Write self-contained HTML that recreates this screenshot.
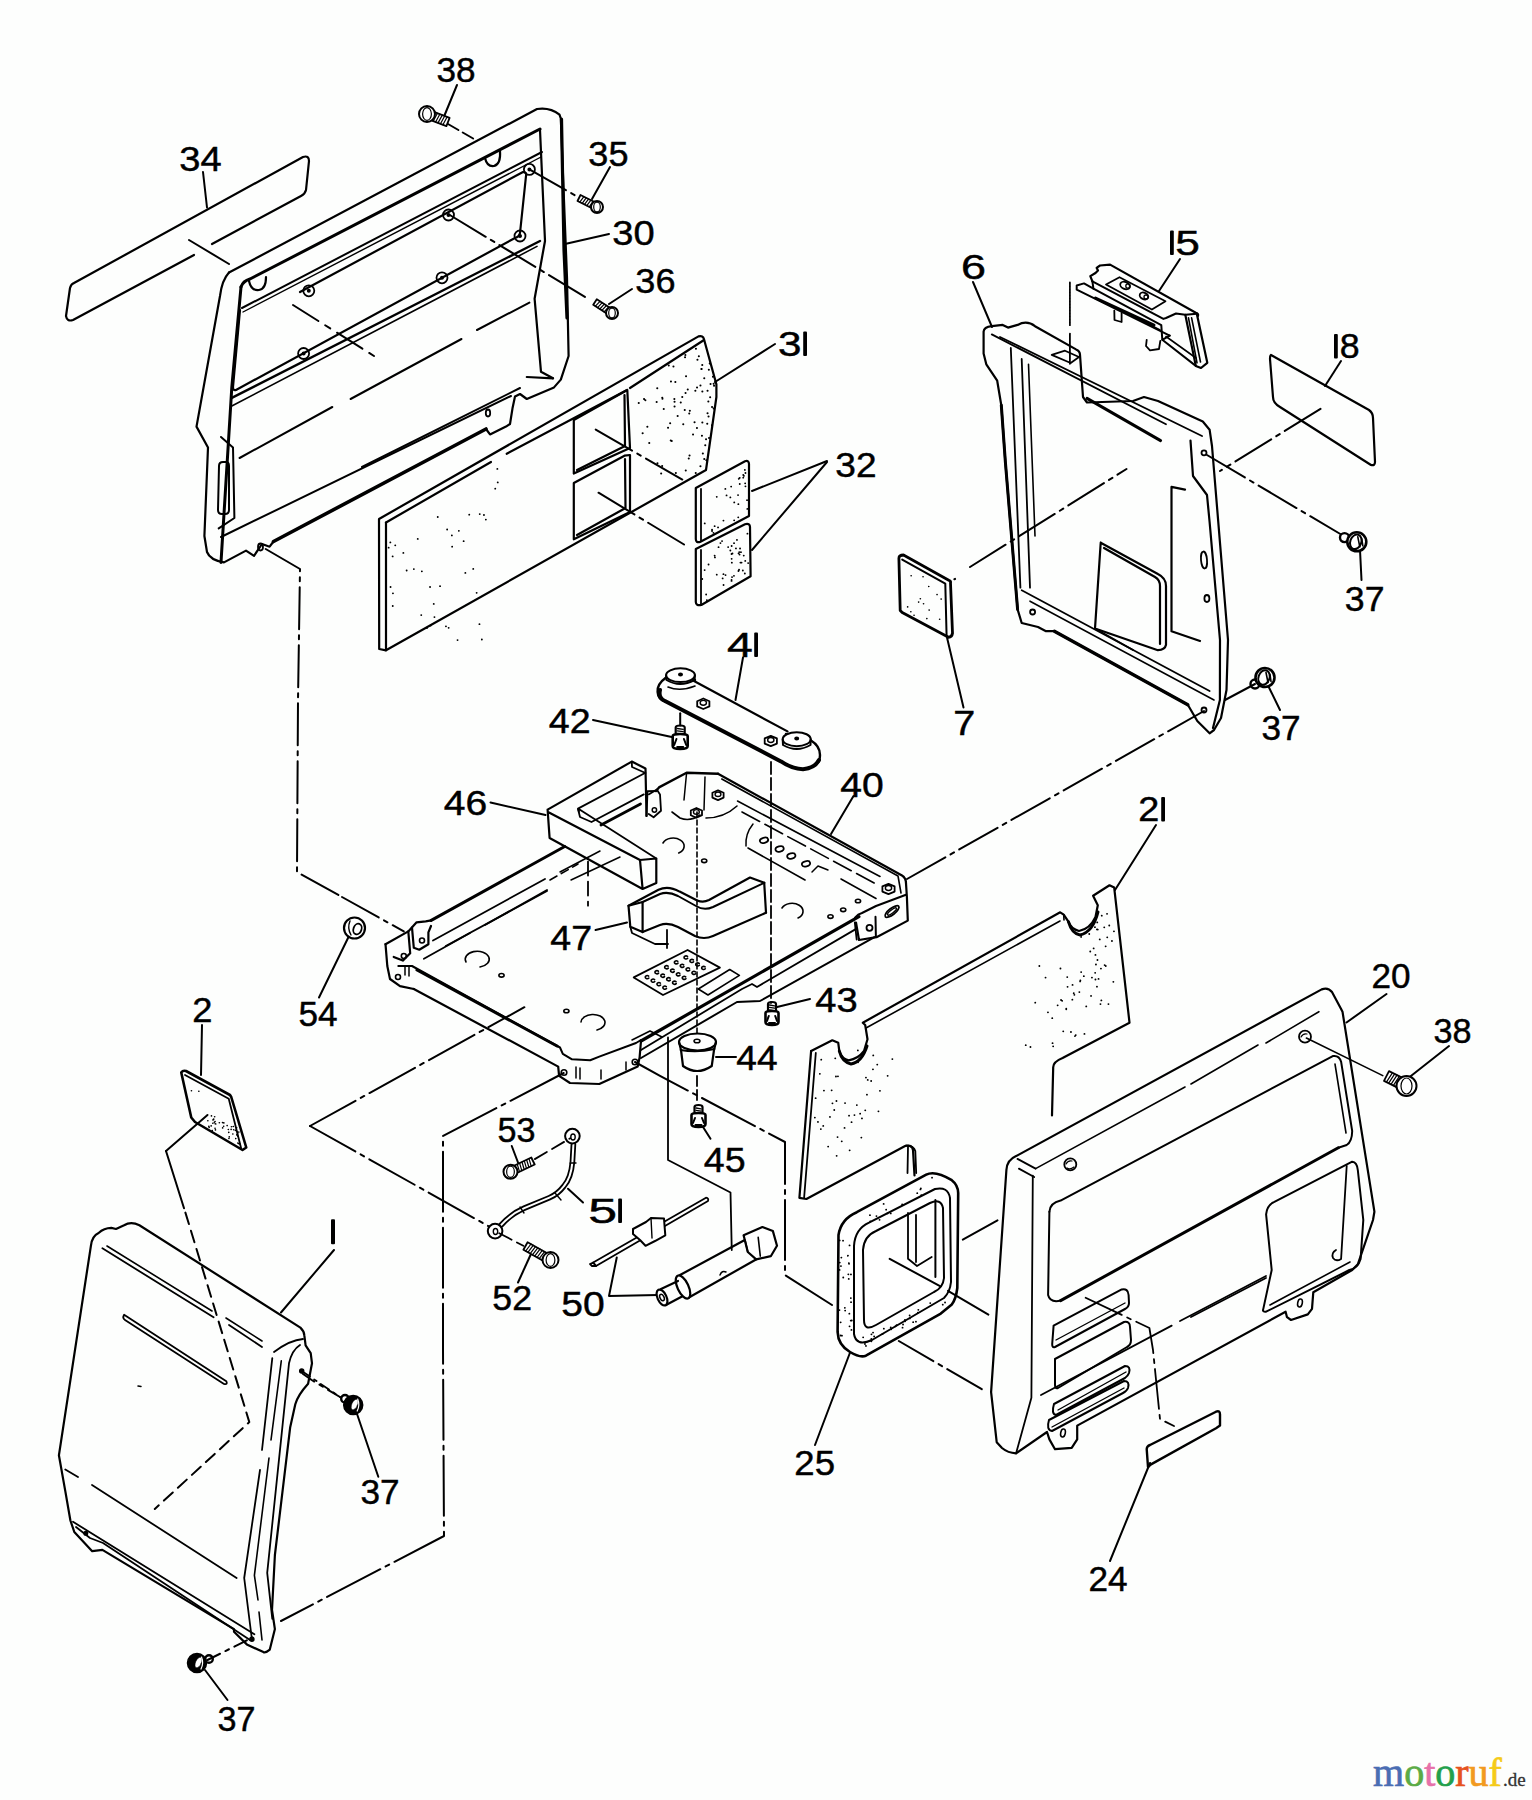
<!DOCTYPE html>
<html><head><meta charset="utf-8"><title>parts diagram</title>
<style>
html,body{margin:0;padding:0;background:#fdfefd;overflow:hidden;}
svg{display:block;}
text{font-family:"Liberation Sans",sans-serif;fill:#000;stroke:#000;stroke-width:0.45px;}
.wm{font-family:"Liberation Serif",serif;stroke:none;}
</style></head><body>
<svg width="1532" height="1800" viewBox="0 0 1532 1800">
<g stroke="#000" stroke-linecap="round" stroke-linejoin="round" fill="none">
<path d="M457,85 L443,119" stroke-width="2.0" fill="none" />
<path d="M203,172 L207,207.5" stroke-width="2.0" fill="none" />
<path d="M610,167 L592,199" stroke-width="2.0" fill="none" />
<path d="M609,234 L565,244" stroke-width="2.0" fill="none" />
<path d="M632,289 L609,304" stroke-width="2.0" fill="none" />
<path d="M775,344 L715,382" stroke-width="2.0" fill="none" />
<path d="M973,282 L992,327" stroke-width="2.0" fill="none" />
<path d="M1180,259 L1159,291" stroke-width="2.0" fill="none" />
<path d="M1341,361 L1325,386" stroke-width="2.0" fill="none" />
<path d="M827,461 L752,491" stroke-width="2.0" fill="none" />
<path d="M827,462 L752,550" stroke-width="2.0" fill="none" />
<path d="M1361.5,580 L1360,550" stroke-width="2.0" fill="none" />
<path d="M963.5,707.5 L947,637.5" stroke-width="2.0" fill="none" />
<path d="M743,657.5 L735.5,700" stroke-width="2.0" fill="none" />
<path d="M593,720 L674,737.5" stroke-width="2.0" fill="none" />
<path d="M1280,710 L1269,687.5" stroke-width="2.0" fill="none" />
<path d="M490.5,802.5 L545.5,815" stroke-width="2.0" fill="none" />
<path d="M853.5,796 L831,834" stroke-width="2.0" fill="none" />
<path d="M1156,825 L1115,890" stroke-width="2.0" fill="none" />
<path d="M595.5,930 L627,922.5" stroke-width="2.0" fill="none" />
<path d="M202,1025 L201,1075" stroke-width="2.0" fill="none" />
<path d="M319,997.5 L349,936" stroke-width="2.0" fill="none" />
<path d="M810,999 L775,1007.5" stroke-width="2.0" fill="none" />
<path d="M1386.5,994 L1346.5,1022.5" stroke-width="2.0" fill="none" />
<path d="M1449,1046 L1409,1077.5" stroke-width="2.0" fill="none" />
<path d="M716,1057 L736,1057" stroke-width="2.0" fill="none" />
<path d="M511.75,1146 L518,1162.5" stroke-width="2.0" fill="none" />
<path d="M710.5,1138.75 L701.75,1125" stroke-width="2.0" fill="none" />
<path d="M583,1202.5 L568,1188.75" stroke-width="2.0" fill="none" />
<path d="M334,1250 L281,1312.5" stroke-width="2.0" fill="none" />
<path d="M518,1282.5 L530.5,1255" stroke-width="2.0" fill="none" />
<path d="M616.75,1257.5 L609,1296 L658,1295" stroke-width="2.0" fill="none" />
<path d="M815,1445 L851,1350" stroke-width="2.0" fill="none" />
<path d="M378.3,1476.7 L357.2,1414.5" stroke-width="2.0" fill="none" />
<path d="M1110,1561 L1150,1463" stroke-width="2.0" fill="none" />
<path d="M205,1670 L227.5,1700" stroke-width="2.0" fill="none" />
<path d="M74,283 L303,157 Q309,155 309,161 L306,190 Q305,194 301,196 L212,244 M194,255 L73,320 Q67,322 66,316 L70,288 Q71,284 74,283" stroke-width="2.2" fill="none" />
<path d="M189,240 L229,264" stroke-width="2.0" fill="none" />
<path d="M293,305 L374,356" stroke-width="2.0" fill="none" stroke-dasharray="30 8 6 8"/>
<path d="M229,272.5 L537,109 Q550,107 559.5,114.6 L560.8,118.5 L567,277.8 L568.6,356 L560.8,379.6 L554,387.4 L526.8,399 L520,394 L515,396.6 L512.5,408.3 L510,424 L506,426.6 L490,434.4 L486,429" stroke-width="2.2" fill="none" />
<path d="M273.5,541.5 L269.6,546.7 L262,544 L254,555.8 L246,550.6 L224,562.4 Q210,560 207,552 L204.4,536 L208,447.5 L196.5,426.6 L220,296 Q222,280 229,272.5" stroke-width="2.2" fill="none" />
<path d="M486,429 L273.5,541.5" stroke-width="3.6" fill="none" />
<path d="M241,287 Q243,281 250,279 L540,129" stroke-width="3.0" fill="none" />
<path d="M241,287 L231.8,387.4 L221,562.4" stroke-width="3.0" fill="none" />
<path d="M540,130 L545,241 L534.6,298.7 L541,371.8 L553,378.3" stroke-width="2.2" fill="none" />
<path d="M561.5,119 L564,250 L567,318" stroke-width="3.2" fill="none" />
<path d="M526.8,377 L553,378.3" stroke-width="2.2" fill="none" />
<path d="M242,308 L542,152" stroke-width="2.0" fill="none" />
<path d="M243,312 L541,157" stroke-width="1.4" fill="none" />
<path d="M300,292 L523,172 Q527,172 526,176 L520,233 Q519,237 515,238 L236,390 Q233,391 233,387 L240,310" stroke-width="2.2" fill="none" />
<circle cx="308.8" cy="290.8" r="5.5" stroke-width="1.8" fill="none"/>
<circle cx="308.8" cy="290.8" r="1.3" stroke-width="1.4" fill="#000"/>
<circle cx="448.5" cy="215" r="5.5" stroke-width="1.8" fill="none"/>
<circle cx="448.5" cy="215" r="1.3" stroke-width="1.4" fill="#000"/>
<circle cx="303.6" cy="353.5" r="5.5" stroke-width="1.8" fill="none"/>
<circle cx="303.6" cy="353.5" r="1.3" stroke-width="1.4" fill="#000"/>
<circle cx="442" cy="277.8" r="5.5" stroke-width="1.8" fill="none"/>
<circle cx="442" cy="277.8" r="1.3" stroke-width="1.4" fill="#000"/>
<circle cx="520" cy="236" r="5.5" stroke-width="1.8" fill="none"/>
<circle cx="520" cy="236" r="1.3" stroke-width="1.4" fill="#000"/>
<circle cx="529.4" cy="169.4" r="5.5" stroke-width="1.8" fill="none"/>
<circle cx="529.4" cy="169.4" r="1.3" stroke-width="1.4" fill="#000"/>
<path d="M231.8,397.9 L540,241" stroke-width="2.4" fill="none" />
<path d="M231.8,406 L537,246.4" stroke-width="1.6" fill="none" />
<path d="M239.6,458 L332.3,407" stroke-width="2.0" fill="none" />
<path d="M350.6,399 L461.5,339" stroke-width="2.0" fill="none" />
<path d="M477,330 L529.4,302.6" stroke-width="2.0" fill="none" />
<path d="M362,467 L520,388" stroke-width="2.0" fill="none" />
<path d="M221,537 L511,396" stroke-width="2.0" fill="none" />
<path d="M219,466 Q219,462 223,462 L226,462 Q229,462 229,466 L229,510 Q229,514 225,514 L222,514 Q218,514 218,510 Z" stroke-width="2.0" fill="none" />
<path d="M221,437 L233,447.5 L234.4,518 L218.7,528.4" stroke-width="2.0" fill="none" />
<ellipse cx="260.5" cy="547" rx="2.5" ry="3.5" transform="rotate(0 260.5 547)" stroke-width="1.8" fill="none"/>
<ellipse cx="488" cy="413" rx="2.2" ry="3.5" transform="rotate(0 488 413)" stroke-width="1.8" fill="none"/>
<path d="M529.4,169.4 L578,197" stroke-width="2.0" fill="none" stroke-dasharray="42 6 4 6"/>
<path d="M449.8,215 L590,300" stroke-width="2.0" fill="none" stroke-dasharray="42 6 4 6"/>
<path d="M448,124 L474,139" stroke-width="2.0" fill="none" stroke-dasharray="12 5"/>
<path d="M265.7,549 L300,569 L298,700 L297,872 L342,897" stroke-width="2.0" fill="none" stroke-dasharray="42 6 4 6"/>
<path d="M379,519 L698.5,336.4 Q703,335 704,339.2 L716.4,384.4 L716.4,397 L706,470 L386,650.3 L379.2,649 Z" stroke-width="2.2" fill="none" />
<path d="M386,522.5 L491,462 M506.7,453.8 L627,390 M630,388 L704,340" stroke-width="2.2" fill="none" />
<path d="M386,522.5 L386,650.3" stroke-width="2.2" fill="none" />
<path d="M573.8,420 L627.3,390 L630,448 L573.8,473.5 Z" stroke-width="2.2" fill="none" />
<path d="M624.5,395 L625,446 M577,470 L625,446" stroke-width="2.2" fill="none" />
<path d="M573.8,483 L624.5,455.7 L630,455 L630,512 L573.8,539.3 Z" stroke-width="2.2" fill="none" />
<path d="M625,459 L625.5,508 M577,535 L625.5,508" stroke-width="2.2" fill="none" />
<path d="M447.1,529.5h0.1M392.6,556.4h0.1M390.3,542.4h0.1M434.4,617.1h0.1M457.5,640.1h0.1M451.8,535.4h0.1M497.3,468.9h0.1M483.9,515.0h0.1M421.2,615.1h0.1M406.6,570.5h0.1M458.8,530.8h0.1M463.6,541.2h0.1M421.8,571.3h0.1M437.7,517.0h0.1M476.6,592.8h0.1M413.8,569.1h0.1M445.9,626.3h0.1M469.2,514.7h0.1M497.7,482.4h0.1M433.7,603.9h0.1M403.3,552.9h0.1M390.5,587.0h0.1M473.2,568.9h0.1M485.8,519.6h0.1M465.3,572.9h0.1M452.1,546.7h0.1M481.8,639.5h0.1M440.0,586.2h0.1M392.9,593.3h0.1M479.7,514.1h0.1M430.0,587.0h0.1M388.6,547.7h0.1M392.7,606.0h0.1M430.6,625.6h0.1M395.2,545.3h0.1M448.6,627.8h0.1M479.4,624.2h0.1M417.7,538.9h0.1M426.9,628.0h0.1M495.2,488.7h0.1" stroke-width="1.8" stroke-linecap="round"/>
<path d="M671.7,441.0h0.1M663.7,409.0h0.1M644.0,399.1h0.1M638.7,403.1h0.1M705.2,445.2h0.1M670.1,423.3h0.1M701.3,369.1h0.1M642.6,433.3h0.1M704.2,459.0h0.1M675.8,472.9h0.1M700.4,466.3h0.1M674.5,401.7h0.1M702.3,422.6h0.1M698.8,356.2h0.1M694.5,422.3h0.1M713.6,408.5h0.1M708.3,401.4h0.1M697.4,359.8h0.1M708.5,416.5h0.1M702.2,365.0h0.1M701.6,369.1h0.1M674.3,399.0h0.1M657.4,463.3h0.1M677.6,416.0h0.1M697.0,387.4h0.1M700.4,385.4h0.1M709.0,437.9h0.1M689.2,413.5h0.1M675.3,382.1h0.1M695.3,390.7h0.1M645.3,400.3h0.1M693.0,434.6h0.1M684.7,410.0h0.1M687.7,389.4h0.1M656.6,401.9h0.1M647.3,426.8h0.1M688.7,458.5h0.1M701.9,435.8h0.1M685.3,355.0h0.1M689.5,455.5h0.1M706.3,460.2h0.1M707.2,423.7h0.1M707.5,390.7h0.1M680.7,402.6h0.1M710.5,383.9h0.1M709.7,363.4h0.1M714.0,385.7h0.1M668.7,365.5h0.1M662.4,398.8h0.1M704.2,378.3h0.1M670.7,440.6h0.1M713.6,383.7h0.1M685.7,470.5h0.1M685.5,393.0h0.1M649.2,443.0h0.1M670.9,381.4h0.1M711.9,425.3h0.1M710.1,397.3h0.1M662.2,397.7h0.1M712.9,376.8h0.1M695.9,348.8h0.1M657.2,388.3h0.1M712.0,406.9h0.1M682.2,397.1h0.1M661.1,473.4h0.1M702.8,453.6h0.1M702.3,391.4h0.1M662.1,466.0h0.1M706.0,439.2h0.1M686.0,376.2h0.1M685.0,357.3h0.1M689.8,410.8h0.1M707.5,413.2h0.1M673.4,366.5h0.1M674.5,406.4h0.1M683.2,424.2h0.1M695.7,473.0h0.1M668.0,427.7h0.1M696.9,427.9h0.1M708.8,369.7h0.1" stroke-width="2.0" stroke-linecap="round"/>
<path d="M595.7,429.6 L686,481.7" stroke-width="2.0" fill="none" stroke-dasharray="42 6 4 6"/>
<path d="M598.5,492.7 L689,547.5" stroke-width="2.0" fill="none" stroke-dasharray="42 6 4 6"/>
<path d="M695.8,488 L745,461.2 Q749,460 749,464 L749,516 L700,542 Q695.8,543 695.8,539 Z" stroke-width="2.2" fill="none" />
<path d="M701,489 L701,541" stroke-width="1.8" fill="none" />
<path d="M695.8,549 L745,524.2 Q750,523 750,527 L750.6,576.3 L701.3,605 Q695.8,606 695.8,602 Z" stroke-width="2.2" fill="none" />
<path d="M701,550 L701,604" stroke-width="1.8" fill="none" />
<path d="M744.8,469.9h0.1M714.6,526.2h0.1M725.3,488.9h0.1M743.2,477.7h0.1M739.7,484.0h0.1M747.3,508.9h0.1M730.3,497.4h0.1M743.2,474.9h0.1M745.1,483.3h0.1M738.0,495.1h0.1M713.4,532.8h0.1M726.5,495.4h0.1M704.7,523.4h0.1M739.4,478.1h0.1M723.4,520.6h0.1M738.3,504.2h0.1M712.0,531.0h0.1M747.0,500.2h0.1M743.9,475.8h0.1M734.1,520.3h0.1M745.4,473.0h0.1M731.1,486.6h0.1M716.7,496.8h0.1M712.0,529.7h0.1M739.7,477.8h0.1M738.7,478.8h0.1M718.0,527.4h0.1M745.4,486.3h0.1M734.2,502.4h0.1M738.2,517.3h0.1" stroke-width="1.8" stroke-linecap="round"/>
<path d="M731.5,554.0h0.1M706.1,594.5h0.1M732.4,553.5h0.1M736.9,539.9h0.1M738.4,571.0h0.1M706.8,600.1h0.1M725.5,575.1h0.1M733.9,575.8h0.1M716.7,574.7h0.1M731.6,546.0h0.1M723.4,574.2h0.1M714.9,557.4h0.1M718.5,547.2h0.1M720.4,543.1h0.1M731.8,562.7h0.1M740.4,562.6h0.1M714.6,555.6h0.1M722.0,541.1h0.1M735.9,548.4h0.1M732.0,577.1h0.1M738.5,553.3h0.1M728.1,547.1h0.1M708.5,564.5h0.1M741.5,562.6h0.1M739.2,552.1h0.1M744.8,573.5h0.1M731.5,579.9h0.1M734.0,543.2h0.1M723.5,585.0h0.1M739.0,569.7h0.1M704.6,570.1h0.1M745.2,560.9h0.1M748.1,563.1h0.1M702.2,579.0h0.1M747.4,533.7h0.1M731.5,580.9h0.1M722.6,578.4h0.1M739.5,554.6h0.1M731.6,558.8h0.1M738.9,570.1h0.1M740.9,552.2h0.1M730.3,550.5h0.1M743.7,555.6h0.1M740.0,548.5h0.1M742.8,570.5h0.1" stroke-width="1.8" stroke-linecap="round"/>
<path d="M983.6,331.7 Q984,327 991.8,326.2 L1002.7,324.9 L1008,327.6 L1017.6,324.9 Q1027,320 1035,326.2 L1076,349.4 Q1080,351 1080,354.8 L1083,397 L1087,402.5 L1133,401 L1144,397 L1158,401 L1202.8,421.5 L1209.6,429.7 L1212,446 L1228,640 L1226.5,690 L1221,718 L1214,730 L1209.6,733.3 L1197.3,721 L1187.8,704.7 L1054.4,631.2 L1046,631.2 L1038,627 L1021.7,623 L1017.6,609.4 L1005.4,462.4 L1001.3,405.2 L997.2,380.7 L986.3,364.3 L983.6,353.5 Z" stroke-width="2.2" fill="none" />
<path d="M1054.4,631.2 L1187.8,704.7" stroke-width="3.4" fill="none" />
<path d="M1017.6,609.4 L1005.4,462.4 L1001.3,405.2" stroke-width="3.0" fill="none" />
<path d="M991.8,334.4 L1166,424.2" stroke-width="1.8" fill="none" />
<path d="M1000,337 L1202,436" stroke-width="1.8" fill="none" />
<path d="M1087,398.4 L1160.6,440.6" stroke-width="3.0" fill="none" />
<path d="M1010.8,348 L1020.4,587.6" stroke-width="1.8" fill="none" />
<path d="M1021.7,359 L1030,587.6" stroke-width="1.8" fill="none" />
<path d="M1028.5,364.3 L1035,536" stroke-width="1.6" fill="none" />
<path d="M1021.7,590.3 L1209.6,691" stroke-width="1.8" fill="none" />
<path d="M1030,601.2 L1214,700" stroke-width="1.6" fill="none" />
<path d="M1190.5,440.6 L1193,476 L1207,495 L1209.6,522 L1220,640 L1219.9,700 L1213,728" stroke-width="2.2" fill="none" />
<path d="M1100.7,542.7 L1157.9,574 Q1166,578 1166,586 L1166,644.8 Q1165,650 1157.9,650.2 L1095,628.5 L1100.7,542.7" stroke-width="2.2" fill="none" />
<path d="M1104,548 L1155,577 Q1160,580 1160,586 L1160,644" stroke-width="2.2" fill="none" />
<path d="M1095,628.5 L1133,650" stroke-width="1.8" fill="none" />
<path d="M1185,489.6 L1171.5,486.9 L1171.5,631.2 L1200,641" stroke-width="2.2" fill="none" />
<ellipse cx="1204" cy="560" rx="3" ry="8.5" transform="rotate(-5 1204 560)" stroke-width="1.8" fill="none"/>
<ellipse cx="1206.9" cy="598.5" rx="2.5" ry="3.5" transform="rotate(0 1206.9 598.5)" stroke-width="1.8" fill="none"/>
<circle cx="1032.6" cy="612" r="2.5" stroke-width="1.8" fill="none"/>
<circle cx="1204" cy="452.8" r="2.5" stroke-width="1.8" fill="none"/>
<circle cx="1204" cy="710" r="2.5" stroke-width="1.8" fill="none"/>
<path d="M970,567 L1126.5,469" stroke-width="2.0" fill="none" stroke-dasharray="42 6 4 6"/>
<path d="M1069.9,282.4 L1069.9,325.2" stroke-width="1.8" fill="none" stroke-dasharray="2 1"/>
<path d="M1069.9,333.6 L1069.9,363.8" stroke-width="1.8" fill="none" />
<path d="M1051.7,354.8 L1065,350.7 L1079,357 L1070.7,363 Z" stroke-width="1.8" fill="none" />
<path d="M1092.4,281.3 L1090.3,276.1 L1095.5,273 L1098,270.5 L1096.6,267.8 L1100,265.5 L1110.1,264.6 L1195.8,312.7 Q1199,314 1197.9,316" stroke-width="2.2" fill="none" />
<path d="M1092.4,281.3 L1163.4,318.9 L1166,318 L1176,313.5 L1185.3,314.8 L1196.8,313.7" stroke-width="2.0" fill="none" />
<path d="M1092.4,281.3 L1093.4,288.6 L1161.3,325.2 L1162.3,339.8 L1169.7,335.6" stroke-width="2.0" fill="none" />
<path d="M1106,284.5 L1119.5,277.2 L1165.5,301.2 L1151.9,309.5 Z" stroke-width="1.8" fill="none" />
<ellipse cx="1125" cy="285.5" rx="5" ry="3.5" transform="rotate(25 1125 285.5)" stroke-width="1.8" fill="none"/>
<ellipse cx="1144" cy="296" rx="4.5" ry="3.2" transform="rotate(25 1144 296)" stroke-width="1.8" fill="none"/>
<circle cx="1128" cy="286" r="2.2" stroke-width="1.3" fill="none"/>
<circle cx="1146" cy="297" r="2" stroke-width="1.3" fill="none"/>
<path d="M1185.3,314.8 L1195.8,365.9 L1201,368 L1207.3,362.8 L1196.8,313.7" stroke-width="2.2" fill="none" />
<path d="M1188.5,317.9 L1197,362.8" stroke-width="1.6" fill="none" />
<path d="M1191.6,317.9 L1200.5,362" stroke-width="1.6" fill="none" />
<path d="M1162.3,339.8 L1195.8,365.9" stroke-width="2.0" fill="none" />
<path d="M1166,336.5 L1196,358" stroke-width="1.6" fill="none" />
<path d="M1076.7,285.5 L1084,283.4 L1093.4,288.6 M1076.7,285.5 L1076.7,289.7 L1169.7,335.6" stroke-width="2.0" fill="none" />
<path d="M1095.5,298 L1154,325.2" stroke-width="3.0" fill="none" />
<path d="M1146.7,339.8 L1146,346 L1150,350.3 L1159,349 L1160.3,341" stroke-width="1.8" fill="none" />
<path d="M1114.3,310.6 L1114.5,320 L1121.6,322 L1121.6,313" stroke-width="1.8" fill="none" />
<path d="M1133,316 L1160,330" stroke-width="1.6" fill="none" />
<path d="M1271,355 L1369,410 Q1373,413 1373,418 L1375,462 Q1375,466 1371,465 L1280,407 Q1273,403 1273,397 L1270,359 Q1270,355 1271,355" stroke-width="2.2" fill="none" />
<path d="M1320.5,408.8 L1220,471" stroke-width="2.0" fill="none" stroke-dasharray="42 6 4 6"/>
<path d="M1207,455 L1342,535" stroke-width="2.0" fill="none" stroke-dasharray="44 6 4 6"/>
<circle cx="1344.5" cy="537.6" r="4.5" stroke-width="2.4" fill="#fff"/>
<circle cx="1356.8" cy="541.8" r="9.5" stroke-width="2.6" fill="#fff"/>
<ellipse cx="1355.8" cy="541.8" rx="5.5" ry="7.5" transform="rotate(20 1355.8 541.8)" stroke-width="2.0" fill="none"/>
<path d="M1357.8,536.8 L1359.8,546.8 M1361.8,538.8 L1362.8,545.8" stroke-width="1.6" fill="none" />
<circle cx="1255" cy="684" r="4.5" stroke-width="2.4" fill="#fff"/>
<circle cx="1265" cy="677.5" r="9.5" stroke-width="2.6" fill="#fff"/>
<ellipse cx="1264" cy="677.5" rx="5.5" ry="7.5" transform="rotate(20 1264 677.5)" stroke-width="2.0" fill="none"/>
<path d="M1266,672.5 L1268,682.5 M1270,674.5 L1271,681.5" stroke-width="1.6" fill="none" />
<circle cx="345" cy="1398.8" r="3.8000000000000003" stroke-width="2.4" fill="#fff"/>
<circle cx="353.2" cy="1405" r="9.5" stroke-width="1.5" fill="#000"/>
<ellipse cx="354.7" cy="1404.5" rx="2.85" ry="5.7" transform="rotate(25 354.7 1404.5)" stroke-width="0.5" fill="#fff"/>
<path d="M357.7,1399 Q360.2,1405 357.2,1411" stroke-width="1.2" fill="none" stroke="#fff"/>
<circle cx="209" cy="1659" r="3.8000000000000003" stroke-width="2.4" fill="#fff"/>
<circle cx="197" cy="1663" r="9.5" stroke-width="1.5" fill="#000"/>
<ellipse cx="198.5" cy="1662.5" rx="2.85" ry="5.7" transform="rotate(25 198.5 1662.5)" stroke-width="0.5" fill="#fff"/>
<path d="M201.5,1657 Q204,1663 201,1669" stroke-width="1.2" fill="none" stroke="#fff"/>
<path d="M1255,684 L1225,700" stroke-width="2.0" fill="none" none/>
<path d="M340,1397 L311.7,1380 L301,1372.5" stroke-width="2.0" fill="none" stroke-dasharray="14 6 4 6"/>
<path d="M207.5,1660 L252.5,1637.5" stroke-width="2.0" fill="none" stroke-dasharray="14 6 4 6"/>
<path d="M907,879 L1204,711" stroke-width="2.0" fill="none" stroke-dasharray="44 6 4 6"/>
<path d="M449.6,117.9 L428.6,109.9 L425.4,118.1 L446.4,126.1 Z" stroke-width="1.8" fill="#fff" />
<path d="M447.1,117.0 L442.9,124.8 M444.7,116.0 L440.5,123.8 M442.3,115.1 L438.0,122.9 M439.8,114.2 L435.6,122.0 M437.4,113.3 L433.2,121.1 M435.0,112.3 L430.7,120.1 M432.6,111.4 L428.3,119.2 " stroke-width="1.2" fill="none" />
<circle cx="427" cy="114" r="8" stroke-width="2.0" fill="#fff"/>
<ellipse cx="427" cy="114" rx="4.4" ry="6.4" transform="rotate(0 427 114)" stroke-width="1.2" fill="none"/>
<path d="M577.5,201.0 L595.5,210.0 L598.5,204.0 L580.5,195.0 Z" stroke-width="1.8" fill="#fff" />
<path d="M579.8,202.1 L583.9,196.7 M582.2,203.3 L586.2,197.9 M584.5,204.4 L588.5,199.1 M586.8,205.6 L590.9,200.2 M589.2,206.8 L593.2,201.4 M591.5,207.9 L595.5,202.6 " stroke-width="1.2" fill="none" />
<circle cx="597" cy="207" r="6" stroke-width="2.0" fill="#fff"/>
<ellipse cx="597" cy="207" rx="3.3000000000000003" ry="4.800000000000001" transform="rotate(0 597 207)" stroke-width="1.2" fill="none"/>
<path d="M593.2,304.8 L610.2,315.8 L613.8,310.2 L596.8,299.2 Z" stroke-width="1.8" fill="#fff" />
<path d="M595.4,306.2 L600.0,301.3 M597.6,307.6 L602.2,302.7 M599.8,309.0 L604.3,304.1 M601.9,310.4 L606.5,305.5 M604.1,311.8 L608.7,306.9 M606.3,313.2 L610.9,308.4 " stroke-width="1.2" fill="none" />
<circle cx="612" cy="313" r="6" stroke-width="2.0" fill="#fff"/>
<ellipse cx="612" cy="313" rx="3.3000000000000003" ry="4.800000000000001" transform="rotate(0 612 313)" stroke-width="1.2" fill="none"/>
<path d="M675.7,727.5 Q675.7,725.5 680.2,725.5 Q684.7,725.5 684.7,727.5 L684.7,737 L675.7,737 Z" stroke-width="2.2" fill="#fff" />
<path d="M677.2,728.5 L683.2,729.3 M677.2,730.9 L683.2,731.6999999999999 M677.2,733.3 L683.2,734.0999999999999 M677.2,735.6999999999999 L683.2,736.4999999999999 " stroke-width="1.3" fill="none" />
<path d="M672.7,736 Q672.7,734 680.2,734 Q687.7,734 687.7,736 L687.7,746 Q687.7,749 680.2,749 Q672.7,749 672.7,746 Z" stroke-width="2.6" fill="#fff" />
<path d="M674.2,745 L676.45,739 M686.2,745 L683.95,739 M677.2,747 L683.2,747" stroke-width="2.0" fill="none" />
<path d="M680.2,713.3 L680.2,725.5" stroke-width="2.0" fill="none" />
<path d="M768.0,1004 Q768.0,1002 772,1002 Q776.0,1002 776.0,1004 L776.0,1014 L768.0,1014 Z" stroke-width="2.2" fill="#fff" />
<path d="M769.5,1005 L774.5,1005.8 M769.5,1007.4 L774.5,1008.1999999999999 M769.5,1009.8 L774.5,1010.5999999999999 M769.5,1012.1999999999999 L774.5,1012.9999999999999 " stroke-width="1.3" fill="none" />
<path d="M765.5,1013 Q765.5,1011 772,1011 Q778.5,1011 778.5,1013 L778.5,1022 Q778.5,1025 772,1025 Q765.5,1025 765.5,1022 Z" stroke-width="2.6" fill="#fff" />
<path d="M767.0,1021 L768.75,1016 M777.0,1021 L775.25,1016 M769,1023 L775,1023" stroke-width="2.0" fill="none" />
<path d="M694.5,1107 Q694.5,1105 698.5,1105 Q702.5,1105 702.5,1107 L702.5,1116 L694.5,1116 Z" stroke-width="2.2" fill="#fff" />
<path d="M696.0,1108 L701.0,1108.8 M696.0,1110.4 L701.0,1111.2 M696.0,1112.8000000000002 L701.0,1113.6000000000001 " stroke-width="1.3" fill="none" />
<path d="M691.5,1115 Q691.5,1113 698.5,1113 Q705.5,1113 705.5,1115 L705.5,1124 Q705.5,1127 698.5,1127 Q691.5,1127 691.5,1124 Z" stroke-width="2.6" fill="#fff" />
<path d="M693.0,1123 L695.0,1118 M704.0,1123 L702.0,1118 M695.5,1125 L701.5,1125" stroke-width="2.0" fill="none" />
<path d="M531.3,1157.5 L508.8,1168.3 L512.2,1175.2 L534.7,1164.5 Z" stroke-width="1.8" fill="#fff" />
<path d="M529.0,1158.6 L531.2,1166.1 M526.6,1159.8 L528.9,1167.2 M524.3,1160.9 L526.5,1168.4 M522.0,1162.0 L524.2,1169.5 M519.6,1163.1 L521.8,1170.6 M517.3,1164.3 L519.5,1171.7 M514.9,1165.4 L517.2,1172.8 M512.6,1166.5 L514.8,1174.0 " stroke-width="1.2" fill="none" />
<circle cx="510.5" cy="1171.75" r="7" stroke-width="2.0" fill="#fff"/>
<ellipse cx="510.5" cy="1171.75" rx="3.8500000000000005" ry="5.6000000000000005" transform="rotate(0 510.5 1171.75)" stroke-width="1.2" fill="none"/>
<path d="M523.4,1249.8 L548.4,1263.8 L552.6,1256.2 L527.6,1242.2 Z" stroke-width="1.8" fill="#fff" />
<path d="M525.6,1251.1 L531.0,1244.0 M527.9,1252.4 L533.2,1245.3 M530.2,1253.7 L535.5,1246.6 M532.4,1254.9 L537.8,1247.8 M534.7,1256.2 L540.0,1249.1 M537.0,1257.5 L542.3,1250.4 M539.2,1258.7 L544.6,1251.6 M541.5,1260.0 L546.8,1252.9 M543.8,1261.3 L549.1,1254.2 M546.0,1262.5 L551.4,1255.5 " stroke-width="1.2" fill="none" />
<circle cx="550.5" cy="1260" r="8" stroke-width="2.0" fill="#fff"/>
<ellipse cx="550.5" cy="1260" rx="4.4" ry="6.4" transform="rotate(0 550.5 1260)" stroke-width="1.2" fill="none"/>
<path d="M1384.0,1080.9 L1404.0,1090.9 L1409.0,1081.1 L1389.0,1071.1 Z" stroke-width="1.8" fill="#fff" />
<path d="M1386.4,1082.1 L1392.4,1072.8 M1388.7,1083.2 L1394.7,1073.9 M1391.0,1084.4 L1397.0,1075.1 M1393.3,1085.6 L1399.3,1076.3 M1395.7,1086.7 L1401.7,1077.4 M1398.0,1087.9 L1404.0,1078.6 M1400.3,1089.1 L1406.3,1079.8 " stroke-width="1.2" fill="none" />
<circle cx="1406.5" cy="1086" r="10" stroke-width="2.0" fill="#fff"/>
<ellipse cx="1406.5" cy="1086" rx="5.5" ry="8.0" transform="rotate(0 1406.5 1086)" stroke-width="1.2" fill="none"/>
<circle cx="354.5" cy="928" r="10.5" stroke-width="2.2" fill="#fff"/>
<ellipse cx="357.5" cy="929" rx="4" ry="5.5" transform="rotate(20 357.5 929)" stroke-width="1.8" fill="none"/>
<path d="M350,921 Q347,928 351,935" stroke-width="1.4" fill="none" />
<path d="M898.9,558.3 Q899,555 903.5,555 L949.2,580.5 Q951,581 950.5,583 L952.5,633.3 Q952,637 948.5,637.3 L902.2,612.5 L900.2,610.5 Z" stroke-width="2.8" fill="none" />
<path d="M902.2,559.6 L945.3,583.7 L946.6,636.6" stroke-width="2.0" fill="none" />
<path d="M939.6,619.3h0.1M926.8,618.6h0.1M929.1,610.1h0.1M923.0,576.7h0.1M914.0,615.3h0.1M937.0,594.6h0.1M941.1,599.1h0.1M923.5,603.8h0.1M911.1,575.7h0.1M910.8,611.8h0.1M918.6,602.1h0.1M920.3,598.7h0.1M907.6,606.9h0.1M928.7,586.5h0.1" stroke-width="1.6" stroke-linecap="round"/>
<path d="M954.4,579.2 L955,579" stroke-width="2.2" fill="none" />
<path d="M181.25,1072.5 Q183,1070 186,1071 L230,1095 L231.25,1097 L246.25,1147.5 L242.5,1150 L195,1122 L191.25,1117.5 Z" stroke-width="2.6" fill="none" />
<path d="M185,1075 L228.75,1098.75 L241.25,1148.75" stroke-width="1.8" fill="none" />
<path d="M238.8,1132.1h0.1M227.1,1125.6h0.1M235.4,1130.4h0.1M212.8,1123.2h0.1M228.3,1129.5h0.1M231.1,1129.4h0.1M222.5,1122.6h0.1M213.6,1119.1h0.1M215.0,1128.2h0.1M240.2,1144.2h0.1M235.7,1138.6h0.1M231.4,1126.7h0.1M209.1,1127.4h0.1M215.0,1121.6h0.1M223.8,1122.9h0.1M214.3,1122.2h0.1M238.8,1143.8h0.1M237.8,1136.2h0.1M222.6,1127.9h0.1M237.1,1131.8h0.1M213.6,1119.6h0.1M232.8,1134.0h0.1M215.4,1129.9h0.1M211.1,1125.9h0.1M223.6,1126.3h0.1M215.1,1123.8h0.1M208.8,1126.4h0.1M233.3,1126.5h0.1M236.5,1127.9h0.1M237.5,1133.3h0.1M212.2,1130.6h0.1M228.7,1132.4h0.1M215.7,1124.0h0.1M228.9,1138.5h0.1M236.7,1134.9h0.1M212.9,1119.9h0.1M233.6,1129.8h0.1M236.6,1127.7h0.1M237.8,1143.1h0.1M219.3,1122.7h0.1" stroke-width="1.6" stroke-linecap="round"/>
<path d="M207.8,1120.7h0.1M211.4,1115.9h0.1M229.2,1136.9h0.1M214.6,1116.8h0.1M198.8,1091.2h0.1M191.4,1090.8h0.1" stroke-width="1.6" stroke-linecap="round"/>
<path d="M694,681 L787.5,731.4" stroke-width="2.2" fill="none" />
<path d="M660,690 Q658,698 665,701 L781,761.4 Q792,769 803,769.2 Q815,768 819,760" stroke-width="4.0" fill="none" />
<path d="M695,680 Q690,673 680,673 Q668,673 665.5,678 Q657,684 657.6,692 Q658,699 664.8,701.4" stroke-width="2.4" fill="none" />
<path d="M786,734 Q798,736 811,740.5 Q820,746 820,754.9 Q820,762 815,765.3" stroke-width="2.4" fill="none" />
<path d="M668,687 Q680,692 695,686" stroke-width="1.6" fill="none" />
<ellipse cx="680.5" cy="675.2" rx="14.4" ry="6.9" transform="rotate(0 680.5 675.2)" stroke-width="2.0" fill="#fff"/>
<path d="M666.1,675.2 L666.5,680 Q680,688 694.5,680 L694.9,675.2" stroke-width="2.0" fill="none" />
<ellipse cx="680.5" cy="674.5" rx="1.8" ry="1.2" transform="rotate(0 680.5 674.5)" stroke-width="1.4" fill="#000"/>
<ellipse cx="796.7" cy="739.2" rx="14" ry="7" transform="rotate(0 796.7 739.2)" stroke-width="2.0" fill="#fff"/>
<path d="M782.7,739.2 L783,745 Q796.7,753 810.5,745 L810.7,739.2" stroke-width="2.0" fill="none" />
<ellipse cx="796.7" cy="738.5" rx="1.8" ry="1.2" transform="rotate(0 796.7 738.5)" stroke-width="1.4" fill="#000"/>
<path d="M709.4,706.4 L703.3,709.0 L697.2,706.4 L697.2,701.2 L703.3,698.5 L709.4,701.2 Z" stroke-width="1.8" fill="#fff" />
<ellipse cx="703.3" cy="702.8" rx="3.15" ry="2.4499999999999997" transform="rotate(0 703.3 702.8)" stroke-width="1.4" fill="none"/>
<path d="M776.9,743.6 L770.8,746.2 L764.7,743.6 L764.7,738.4 L770.8,735.8 L776.9,738.4 Z" stroke-width="1.8" fill="#fff" />
<ellipse cx="770.8" cy="740" rx="3.15" ry="2.4499999999999997" transform="rotate(0 770.8 740)" stroke-width="1.4" fill="none"/>
<path d="M723.6,797.6 L718.0,800.1 L712.4,797.6 L712.4,792.8 L718.0,790.3 L723.6,792.8 Z" stroke-width="1.8" fill="#fff" />
<ellipse cx="718" cy="794.2" rx="2.9250000000000003" ry="2.275" transform="rotate(0 718 794.2)" stroke-width="1.4" fill="none"/>
<path d="M702.0,815.3 L696.4,817.8 L690.8,815.3 L690.8,810.5 L696.4,808.0 L702.0,810.5 Z" stroke-width="1.8" fill="#fff" />
<ellipse cx="696.4" cy="811.9" rx="2.9250000000000003" ry="2.275" transform="rotate(0 696.4 811.9)" stroke-width="1.4" fill="none"/>
<path d="M771,762 L771,1003" stroke-width="1.8" fill="none" stroke-dasharray="12 4"/>
<path d="M547.6,809.6 L631.8,761.6 L645.5,768.5 L646.5,816 M547.6,809.6 L549.6,838 L642.6,889 L656.3,883 L656.3,858.5 L640,860 L548,812 M640,860 L642.6,889" stroke-width="2.2" fill="none" />
<path d="M631.8,761.6 L632,767 L645.5,773" stroke-width="1.8" fill="none" />
<path d="M578,808.6 L645,773 M578,808.6 L656.3,858.5 M578,808.6 L579,812" stroke-width="1.8" fill="none" />
<path d="M601,825 L640.5,804" stroke-width="2.8" fill="none" />
<path d="M578,809 L580,817 L591.5,822 L643.8,794.4" stroke-width="1.8" fill="none" />
<path d="M648.7,794.4 L656.8,789.5 L660,794.4 L661,810.8 L653.6,817.3 L648.7,814" stroke-width="1.8" fill="none" />
<circle cx="654.4" cy="810" r="2.2" stroke-width="1.5" fill="none"/>
<path d="M431.2,920.4 L564.7,846.5" stroke-width="3.0" fill="none" />
<path d="M656,791 L659,787.4 L686.6,772.7 L718,773.7" stroke-width="2.4" fill="none" />
<path d="M646.5,816 L647.4,791.3 L656,791" stroke-width="2.0" fill="none" />
<path d="M433,940.5 L545,879" stroke-width="1.8" fill="none" />
<path d="M445.8,946 L547,891" stroke-width="1.8" fill="none" />
<path d="M423.9,958.8 L470,933" stroke-width="1.8" fill="none" />
<path d="M485,925 L547,890" stroke-width="1.8" fill="none" />
<path d="M550,880 L578,864" stroke-width="1.6" fill="none" stroke-dasharray="8 5"/>
<path d="M385.5,944.2 L408.3,931.4 L416.6,922.3 L425.7,921.3 L431.2,920.4" stroke-width="2.2" fill="none" />
<path d="M412,927.7 L413.8,947.8 L419.3,949.7 L428.4,944.2 L428.4,932.3 L431,926" stroke-width="2.2" fill="none" />
<path d="M385.5,944.2 L387.3,966 L390,979 L400,986.2 L413.8,989" stroke-width="2.2" fill="none" />
<path d="M393.7,957 L402.8,960.6 L410.2,953.3 L408.3,931.4" stroke-width="2.2" fill="none" />
<circle cx="422" cy="940.5" r="2.5" stroke-width="1.6" fill="none"/>
<circle cx="403.8" cy="956" r="2.5" stroke-width="1.6" fill="none"/>
<circle cx="398" cy="977" r="2.5" stroke-width="1.6" fill="none"/>
<path d="M405,966 L405,975" stroke-width="1.5" fill="none" />
<path d="M409,967 L409,976" stroke-width="1.5" fill="none" />
<path d="M398.3,966 L412,966 L560,1047.5 L562.8,1053.8 L572,1059.3 L590.2,1060.2 L599.3,1056.6 L636,1043 L641,1040" stroke-width="2.0" fill="none" />
<path d="M417,970 L557,1046" stroke-width="3.0" fill="none" />
<path d="M413.8,989 L558.2,1066.6 L559.1,1075.8 L570,1083 L599.3,1084 L637.7,1066.6 L639.6,1057.5 L641,1041" stroke-width="2.2" fill="none" />
<circle cx="564" cy="1072.5" r="2.8" stroke-width="1.6" fill="none"/>
<circle cx="635" cy="1062" r="2.8" stroke-width="1.6" fill="none"/>
<path d="M576,1067 L576,1078" stroke-width="1.5" fill="none" />
<path d="M580,1068 L580,1079" stroke-width="1.5" fill="none" />
<path d="M601,1070 L601,1079" stroke-width="1.5" fill="none" />
<path d="M626,1062 L626,1070" stroke-width="1.5" fill="none" />
<path d="M718,773.7 L902,875.5 Q906,878 906,883.4 L906.9,897 L907.8,920.6 L876.5,937.2 L859,940 L856,922.5" stroke-width="2.2" fill="none" />
<path d="M721.8,779 L898,876 L901,893" stroke-width="1.6" fill="none" />
<path d="M737.5,801 L880,876.5" stroke-width="1.6" fill="none" />
<path d="M742,812 L876,884" stroke-width="1.6" fill="none" stroke-dasharray="20 6"/>
<path d="M855,917.7 Q858,914 862,913 L876,906 L906,894.8" stroke-width="2.0" fill="none" />
<path d="M875.5,916.8 L875.9,937" stroke-width="2.0" fill="none" />
<ellipse cx="892" cy="911.5" rx="8.5" ry="3.2" transform="rotate(-38 892 911.5)" stroke-width="1.8" fill="none"/>
<ellipse cx="892" cy="911.5" rx="5.5" ry="1.6" transform="rotate(-38 892 911.5)" stroke-width="1.4" fill="none"/>
<circle cx="869.5" cy="927.8" r="3" stroke-width="1.8" fill="none"/>
<path d="M841,879 L876,898.5" stroke-width="1.6" fill="none" />
<path d="M854.8,922.3 L856.7,939.6" stroke-width="1.8" fill="none" />
<path d="M858.9,916.6 L641,1041" stroke-width="3.2" fill="none" />
<path d="M857,928.4 L757,987 L752,984 L742,989 L641,1050" stroke-width="1.8" fill="none" />
<path d="M874.5,937.2 L760,1001 L737,1002 L641,1058" stroke-width="2.0" fill="none" />
<path d="M663,843 A11,8 0 1,1 678.7,853" stroke-width="1.6" fill="none" />
<path d="M782,908 A11,8 0 1,1 798,918" stroke-width="1.6" fill="none" />
<path d="M466,962 A12,8 0 1,1 480,967" stroke-width="1.6" fill="none" />
<path d="M581,1022 A12,8 0 1,1 597,1030" stroke-width="1.6" fill="none" />
<ellipse cx="704.2" cy="860.8" rx="2.6" ry="1.8" transform="rotate(0 704.2 860.8)" stroke-width="1.6" fill="none"/>
<ellipse cx="858" cy="901" rx="2.6" ry="1.8" transform="rotate(0 858 901)" stroke-width="1.6" fill="none"/>
<ellipse cx="843.2" cy="909.8" rx="2.6" ry="1.8" transform="rotate(0 843.2 909.8)" stroke-width="1.6" fill="none"/>
<ellipse cx="830.5" cy="916.6" rx="2.6" ry="1.8" transform="rotate(0 830.5 916.6)" stroke-width="1.6" fill="none"/>
<ellipse cx="501.5" cy="975.3" rx="2.6" ry="1.8" transform="rotate(0 501.5 975.3)" stroke-width="1.6" fill="none"/>
<ellipse cx="566.4" cy="1011" rx="2.6" ry="1.8" transform="rotate(0 566.4 1011)" stroke-width="1.6" fill="none"/>
<ellipse cx="764" cy="840.3" rx="4.2" ry="2.6" transform="rotate(-15 764 840.3)" stroke-width="1.8" fill="none"/>
<ellipse cx="779.6" cy="849" rx="4.2" ry="2.6" transform="rotate(-15 779.6 849)" stroke-width="1.8" fill="none"/>
<ellipse cx="791.3" cy="856" rx="4.2" ry="2.6" transform="rotate(-15 791.3 856)" stroke-width="1.8" fill="none"/>
<ellipse cx="806" cy="863.8" rx="4.2" ry="2.6" transform="rotate(-15 806 863.8)" stroke-width="1.8" fill="none"/>
<path d="M748,848 L805,880" stroke-width="1.6" fill="none" />
<path d="M753,824 Q745,834 746,846" stroke-width="1.5" fill="none" />
<path d="M812,872 L818,866 L828,870" stroke-width="1.5" fill="none" />
<path d="M686.6,772.7 L684,800 M705,777 L704,810" stroke-width="1.5" fill="none" />
<path d="M700,815 Q690,822 680,818 L672,812 M706,818 Q724,818 737,806" stroke-width="1.6" fill="none" />
<path d="M571,880 L620,857" stroke-width="1.5" fill="none" />
<path d="M560,872 L600,851" stroke-width="1.5" fill="none" />
<path d="M633.7,977.4 L687.6,950 L719.9,967.6 L663,995 Z" stroke-width="1.8" fill="none" />
<path d="M648.7,976.1 A2,1.5 0 1,0 648.9,978.0" stroke-width="1.6" fill="none" />
<path d="M658.4,971.2 A2,1.5 0 1,0 658.6,973.1" stroke-width="1.6" fill="none" />
<path d="M668.1,966.2 A2,1.5 0 1,0 668.3,968.1" stroke-width="1.6" fill="none" />
<path d="M677.8,961.3 A2,1.5 0 1,0 678.0,963.2" stroke-width="1.6" fill="none" />
<path d="M687.5,956.4 A2,1.5 0 1,0 687.7,958.3" stroke-width="1.6" fill="none" />
<path d="M654.6,979.6 A2,1.5 0 1,0 654.8,981.5" stroke-width="1.6" fill="none" />
<path d="M664.3,974.7 A2,1.5 0 1,0 664.5,976.6" stroke-width="1.6" fill="none" />
<path d="M674.0,969.7 A2,1.5 0 1,0 674.2,971.6" stroke-width="1.6" fill="none" />
<path d="M683.7,964.8 A2,1.5 0 1,0 683.9,966.7" stroke-width="1.6" fill="none" />
<path d="M693.4,959.9 A2,1.5 0 1,0 693.6,961.8" stroke-width="1.6" fill="none" />
<path d="M660.4,983.1 A2,1.5 0 1,0 660.6,985.0" stroke-width="1.6" fill="none" />
<path d="M670.1,978.2 A2,1.5 0 1,0 670.3,980.1" stroke-width="1.6" fill="none" />
<path d="M679.8,973.3 A2,1.5 0 1,0 680.0,975.2" stroke-width="1.6" fill="none" />
<path d="M689.5,968.3 A2,1.5 0 1,0 689.7,970.2" stroke-width="1.6" fill="none" />
<path d="M699.2,963.4 A2,1.5 0 1,0 699.4,965.3" stroke-width="1.6" fill="none" />
<path d="M666.3,986.6 A2,1.5 0 1,0 666.5,988.5" stroke-width="1.6" fill="none" />
<path d="M676.0,981.7 A2,1.5 0 1,0 676.2,983.6" stroke-width="1.6" fill="none" />
<path d="M685.7,976.8 A2,1.5 0 1,0 685.9,978.7" stroke-width="1.6" fill="none" />
<path d="M695.4,971.8 A2,1.5 0 1,0 695.6,973.7" stroke-width="1.6" fill="none" />
<path d="M705.1,966.9 A2,1.5 0 1,0 705.3,968.8" stroke-width="1.6" fill="none" />
<path d="M698.3,989 L729.7,969.5 L739.4,975.4 L708,995 Z" stroke-width="1.6" fill="none" />
<path d="M632,1040 L650,1031 L662,1037" stroke-width="1.6" fill="none" />
<path d="M310,1126 L524.4,1007.2" stroke-width="2.0" fill="none" stroke-dasharray="52 6 4 6"/>
<path d="M310,1126 L497,1231" stroke-width="2.0" fill="none" stroke-dasharray="52 6 4 6"/>
<path d="M342,897 L403.8,931.4" stroke-width="2.0" fill="none" stroke-dasharray="42 6 4 6"/>
<path d="M563.7,1073 L443,1136 L443,1350 L444,1536 L281,1621" stroke-width="2.0" fill="none" stroke-dasharray="60 6 4 6"/>
<path d="M635,1062 L660,1075.8 L785,1142 L785,1275 L832,1305" stroke-width="2.0" fill="none" stroke-dasharray="60 6 4 6"/>
<path d="M628.5,905.7 L658.5,889.8 Q668,885 679.6,891.6 L697.2,900.4 Q703,903 709,900 L750,877.5 L764.2,882.8" stroke-width="2.2" fill="none" />
<path d="M642.6,902 L660,894 Q668,891 678,896 L696,906 Q704,911 713,907 L764.2,882.8" stroke-width="2.0" fill="none" />
<path d="M642.6,932 L660,925 Q668,922 678,927 L695,936 Q704,940 713,936 L766,912.7" stroke-width="2.2" fill="none" />
<path d="M628.5,905.7 L630.3,926.8 L642.6,932 L642.6,902 Z M764.2,882.8 L766,912.7" stroke-width="2.2" fill="none" />
<path d="M630.3,926.8 L632,933 L655,944 L668,944" stroke-width="1.8" fill="none" />
<ellipse cx="697.5" cy="1042" rx="18.5" ry="8.5" transform="rotate(0 697.5 1042)" stroke-width="2.2" fill="#fff"/>
<path d="M679,1042 L681,1050 L683,1066 Q697,1076 711.75,1066 L714,1050 L716,1042" stroke-width="2.2" fill="none" />
<path d="M680.5,1050 Q697,1053 714.5,1049" stroke-width="1.8" fill="none" />
<ellipse cx="697" cy="1041" rx="3" ry="1.8" transform="rotate(0 697 1041)" stroke-width="1.5" fill="none"/>
<path d="M697,812 L697,1036" stroke-width="1.6" fill="none" stroke-dasharray="5 3"/>
<path d="M697,1076 L697,1103" stroke-width="1.8" fill="none" stroke-dasharray="10 4"/>
<path d="M588,861.6 L588,905.7" stroke-width="1.8" fill="none" stroke-dasharray="14 6"/>
<path d="M667,930 L667,948" stroke-width="1.8" fill="none" />
<path d="M668,1037.5 L668,1160 L730.5,1192.5 L731.75,1250" stroke-width="1.8" fill="none" />
<path d="M811.1,1051 L832.3,1040.3 L838.2,1042.7 L839.3,1051 Q842,1059 848.7,1060.3 Q858,1059 864,1051 L867.5,1039.2 L865.2,1025 L862.8,1022.7 L1060.2,912.3 L1063.7,914.6 L1068.4,921.7 Q1071,929 1079,931 Q1090,929 1095.5,917 L1097.8,905.2 L1093.1,895.8 L1109.5,885.3 L1114.2,887.6 L1129.5,1022.7 L1062.6,1058 Q1053,1062 1053.2,1067.4 L1052,1115.5" stroke-width="2.2" fill="none" />
<path d="M811.1,1051 L799.4,1197.8 L806.4,1199 L905.1,1146 Q912,1144 913,1150 L914.5,1175.5" stroke-width="2.2" fill="none" />
<path d="M815.8,1053 L804.1,1197.8" stroke-width="1.8" fill="none" />
<path d="M866,1028 L1060,921 M1063.7,914.6 L1064,920" stroke-width="1.6" fill="none" />
<path d="M906,1145.5 Q914,1146 915.3,1151 L916.2,1173" stroke-width="1.8" fill="none" />
<path d="M908,1147 L907.5,1173" stroke-width="1.8" fill="none" />
<path d="M839.3,1051 Q842,1062 851,1064 Q862,1062 867,1046" stroke-width="3.0" fill="none" />
<path d="M1068.4,921.7 Q1072,934 1080,935 Q1093,932 1098,912" stroke-width="3.0" fill="none" />
<path d="M872.9,1069.3h0.1M861.9,1118.4h0.1M873.2,1055.4h0.1M854.4,1115.1h0.1M835.2,1058.3h0.1M846.5,1060.5h0.1M823.2,1125.9h0.1M877.2,1064.6h0.1M845.0,1103.1h0.1M879.9,1090.8h0.1M831.6,1090.3h0.1M814.8,1117.6h0.1M832.4,1103.3h0.1M866.9,1094.7h0.1M857.8,1050.4h0.1M849.0,1115.7h0.1M867.7,1079.9h0.1M871.1,1081.0h0.1M865.9,1077.6h0.1M856.8,1105.1h0.1M837.5,1137.1h0.1M820.8,1129.1h0.1M834.2,1110.0h0.1M858.0,1062.3h0.1M821.2,1059.7h0.1M836.4,1101.0h0.1M835.9,1076.5h0.1M817.9,1121.9h0.1M861.3,1137.6h0.1M828.1,1146.6h0.1M851.5,1122.2h0.1M865.2,1110.3h0.1M837.9,1076.3h0.1M829.9,1116.9h0.1M844.5,1127.9h0.1M887.6,1075.8h0.1M860.1,1113.7h0.1M836.6,1155.8h0.1M815.6,1098.2h0.1M849.6,1150.3h0.1M819.8,1073.8h0.1M823.9,1090.6h0.1M841.7,1141.3h0.1M878.4,1111.3h0.1M892.3,1059.1h0.1" stroke-width="1.8" stroke-linecap="round"/>
<path d="M1100.4,1004.1h0.1M1080.1,981.4h0.1M1083.8,976.2h0.1M1067.5,986.8h0.1M1095.9,964.5h0.1M1061.0,1000.0h0.1M1060.4,968.5h0.1M1072.5,984.9h0.1M1039.3,966.0h0.1M1035.2,1002.7h0.1M1081.1,936.9h0.1M1079.3,992.1h0.1M1074.3,994.8h0.1M1091.9,977.6h0.1M1057.6,1005.3h0.1M1091.0,995.9h0.1M1062.1,1000.8h0.1M1066.2,1009.3h0.1M1075.7,1035.1h0.1M1113.3,981.8h0.1M1073.7,993.2h0.1M1086.2,1006.4h0.1M1063.2,1031.3h0.1M1052.2,1018.2h0.1M1108.4,1004.1h0.1M1090.2,951.5h0.1M1072.3,999.7h0.1M1047.9,1012.3h0.1M1080.3,980.5h0.1M1099.7,939.4h0.1M1074.9,1036.1h0.1M1084.4,1033.9h0.1M1100.9,968.6h0.1M1095.1,972.8h0.1M1030.4,1047.0h0.1M1081.1,972.1h0.1M1067.2,977.1h0.1M1025.7,1045.2h0.1M1066.2,1008.7h0.1M1053.1,1046.3h0.1M1105.7,966.0h0.1M1045.5,977.6h0.1M1095.4,954.9h0.1M1052.5,1043.2h0.1M1070.9,1032.0h0.1" stroke-width="1.8" stroke-linecap="round"/>
<path d="M1097.2,922.4h0.1M1107.0,913.8h0.1M1105.6,946.3h0.1M1096.9,929.4h0.1M1089.2,934.0h0.1M1111.9,941.0h0.1M1101.3,1000.4h0.1M1096.9,986.7h0.1M1104.2,927.3h0.1M1101.7,915.7h0.1M1113.9,931.3h0.1M1097.7,929.6h0.1M1109.2,925.5h0.1M1104.6,965.1h0.1M1098.5,978.9h0.1M1107.2,937.3h0.1M1095.4,979.5h0.1M1097.4,960.0h0.1M1094.9,927.2h0.1M1093.6,948.4h0.1" stroke-width="1.8" stroke-linecap="round"/>
<path d="M837.6,1331.9 L838.5,1235 Q841,1219 856.8,1212.2 L926.2,1174.7 Q935,1170 951.8,1180.2 Q958,1185 958.2,1193 L957.3,1288 Q956,1299 951.8,1304.5 L940.8,1313.6 L865.9,1355.7 Q860,1358 850,1352 Q838,1345 837.6,1331.9 Z" stroke-width="2.6" fill="#fff" />
<path d="M854,1246 Q855,1229 869,1222.7 L935,1189 Q948,1186 950,1198 L951,1282 Q950,1292 944,1298 L872,1340 Q856,1347 854,1334 Z" stroke-width="2.0" fill="none" />
<path d="M863,1250 Q864,1236 876,1231 L930,1203 Q941,1198 943,1208 L944,1278 Q943,1288 934,1292 L876,1325 Q864,1332 864,1320 Z" stroke-width="2.0" fill="none" />
<path d="M935.4,1200 L935.4,1277" stroke-width="2.0" fill="none" />
<path d="M908,1213 L908,1258.8 L917,1266 L931.7,1257 M916,1215 L916,1262" stroke-width="1.8" fill="none" />
<path d="M851.7,1320.5h0.1M851.4,1329.9h0.1M840.9,1266.1h0.1M839.4,1310.1h0.1M848.3,1274.3h0.1M844.8,1307.8h0.1M848.8,1263.1h0.1M850.9,1274.4h0.1M847.8,1255.8h0.1M840.6,1335.5h0.1M849.3,1313.7h0.1M839.6,1240.4h0.1M841.3,1257.6h0.1M843.2,1277.5h0.1M839.5,1269.9h0.1M847.9,1255.6h0.1M850.8,1298.1h0.1M849.0,1263.8h0.1M845.1,1310.6h0.1M850.7,1320.6h0.1M843.0,1240.7h0.1M851.0,1302.2h0.1M839.7,1262.6h0.1M840.6,1322.3h0.1M841.9,1335.7h0.1M849.5,1245.4h0.1M848.7,1278.9h0.1M849.5,1326.3h0.1" stroke-width="1.8" stroke-linecap="round"/>
<path d="M915.9,1321.7h0.1M896.5,1325.2h0.1M945.0,1302.5h0.1M905.0,1321.3h0.1M871.4,1334.3h0.1M913.1,1322.2h0.1M874.1,1336.4h0.1M863.1,1337.3h0.1M918.3,1309.8h0.1M857.7,1340.7h0.1M873.0,1332.6h0.1M871.3,1341.3h0.1M890.7,1327.5h0.1M903.0,1324.5h0.1M882.5,1334.0h0.1M904.9,1319.9h0.1M942.7,1304.7h0.1M909.6,1315.5h0.1M883.8,1328.7h0.1M917.8,1312.7h0.1M891.1,1329.3h0.1M895.4,1326.3h0.1M909.8,1318.4h0.1M865.9,1345.9h0.1M902.5,1327.7h0.1M864.9,1344.0h0.1M930.2,1303.1h0.1M871.3,1339.0h0.1" stroke-width="1.8" stroke-linecap="round"/>
<path d="M890.7,1213.4h0.1M870.2,1221.3h0.1M920.8,1188.5h0.1M869.9,1215.2h0.1M886.1,1209.7h0.1M932.0,1177.7h0.1M876.4,1216.1h0.1M921.2,1195.2h0.1M879.5,1219.8h0.1M902.1,1204.3h0.1M920.4,1189.4h0.1M883.6,1203.9h0.1M887.4,1213.4h0.1M917.2,1193.2h0.1" stroke-width="1.8" stroke-linecap="round"/>
<path d="M889.7,1258.8 L940,1286.2" stroke-width="2.0" fill="none" />
<path d="M948,1290.8 L988.4,1314.6" stroke-width="2.0" fill="none" />
<path d="M962.8,1239.6 L997.5,1220.4" stroke-width="2.0" fill="none" />
<path d="M898.8,1341 L983.8,1390.4" stroke-width="2.0" fill="none" stroke-dasharray="40 6 4 6"/>
<path d="M1006.4,1170 Q1007,1160 1016.1,1156.1 L1321.7,989.4 Q1328,987 1332,992 L1341.1,1008.9 L1342.5,1011.7 L1374.4,1211.7 L1373,1220 L1357.8,1264.4 L1352.2,1270 L1313.3,1292.2 L1312,1308.9 L1307.8,1314.4 L1291,1320 L1287,1317.2 L1285.6,1311.7 L1077.2,1425.6 L1077.2,1439.4 L1071.7,1447.8 L1055,1449.2 L1049.4,1439.4 L1047,1432 L1016.1,1453.3 Q1008,1453 1002,1448 L996.7,1442.2 L991.1,1392.2 Z" stroke-width="2.2" fill="none" />
<path d="M1032.8,1175.6 L1031.4,1397.8 L1016.1,1453.3" stroke-width="1.8" fill="none" />
<path d="M1035.6,1168.6 L1185,1087 M1191,1084 L1258,1045 M1266,1043 L1318.9,1011.7" stroke-width="1.6" fill="none" />
<path d="M1017.5,1158.9 L1035.6,1168.6" stroke-width="1.8" fill="none" />
<path d="M1018.9,1168.6 L1034.2,1177" stroke-width="1.8" fill="none" />
<circle cx="1070.3" cy="1164.4" r="6" stroke-width="1.8" fill="none"/>
<path d="M1066,1164 Q1068,1160 1072,1161 M1067,1168 Q1070,1170 1074,1167" stroke-width="1.2" fill="none" />
<circle cx="1305" cy="1036.7" r="6" stroke-width="1.8" fill="none"/>
<path d="M1301,1037 Q1303,1033 1307,1034" stroke-width="1.2" fill="none" />
<path d="M1049.4,1211.7 Q1050,1203 1060.6,1200.6 L1332.8,1056.1 Q1339,1055 1341.1,1061.7 L1352.2,1131.1 Q1352,1142 1346.7,1145 L1338.3,1147.8" stroke-width="2.0" fill="none" />
<path d="M1338.3,1147.8 L1060.6,1300.6" stroke-width="3.0" fill="none" />
<path d="M1060.6,1300.6 Q1050,1303 1048.1,1295 L1049.4,1211.7" stroke-width="2.0" fill="none" />
<path d="M1335,1064 L1346,1133" stroke-width="1.6" fill="none" />
<path d="M1266.1,1214.4 Q1267,1205 1274.4,1201.9 L1352.2,1161.7 Q1357,1162 1357.8,1170 L1363.3,1220 L1360.6,1258.9 Q1358,1268 1349.4,1270 L1266.1,1311.7 Q1262,1312 1263.3,1308.9 L1271.7,1270 L1266.1,1214.4" stroke-width="2.0" fill="none" />
<path d="M1346.7,1166 L1341.1,1258.9 Q1336,1262 1333,1258 Q1331,1253 1336,1250" stroke-width="1.8" fill="none" />
<path d="M1270,1305 L1350,1262" stroke-width="1.6" fill="none" />
<path d="M1191,1317 L1266,1278" stroke-width="1.8" fill="none" />
<path d="M1041,1395 L1171.7,1325.6 M1180,1321 L1266,1276" stroke-width="1.8" fill="none" />
<path d="M1053.6,1325.6 L1121.7,1289.4 Q1128,1288 1128.6,1295 L1129,1303 Q1129,1307 1125,1309 L1055,1347 Q1052,1348 1052.2,1344 Z" stroke-width="2.0" fill="none" />
<path d="M1056,1340 L1125,1303" stroke-width="1.4" fill="none" />
<path d="M1055,1359 L1124,1322 Q1130,1321 1130,1327 L1131,1340 Q1131,1345 1127,1347 L1058,1388 Q1055,1389 1055,1385 Z" stroke-width="2.0" fill="none" />
<path d="M1054,1404 L1125,1366 Q1131,1366 1129,1373 Q1128,1376 1125,1378 L1056,1415 Q1051,1414 1054,1404 Z" stroke-width="2.0" fill="none" />
<path d="M1058,1410 L1126,1372" stroke-width="1.4" fill="none" />
<path d="M1049,1420 L1124,1381 Q1130,1381 1128,1388 Q1127,1391 1123,1393 L1052,1431 Q1046,1430 1049,1420 Z" stroke-width="2.0" fill="none" />
<path d="M1052,1427 L1124,1388" stroke-width="1.4" fill="none" />
<ellipse cx="1063" cy="1433" rx="2.3" ry="4" transform="rotate(10 1063 1433)" stroke-width="1.6" fill="none"/>
<ellipse cx="1300" cy="1303" rx="2.3" ry="4" transform="rotate(10 1300 1303)" stroke-width="1.6" fill="none"/>
<path d="M1085.6,1297.8 L1149.4,1328 L1153,1350 L1160,1419 L1174,1426" stroke-width="1.8" fill="none" stroke-dasharray="40 6 4 6"/>
<path d="M1146.7,1449 Q1147,1446 1150,1445 L1216,1411.7 Q1220,1410 1220,1414.4 L1220,1425.6 L1216,1428.3 L1151,1464.4 Q1148,1467 1148,1467 Z" stroke-width="2.4" fill="none" />
<path d="M1306.4,1038 L1382.8,1075.6" stroke-width="1.6" fill="none" />
<path d="M90.9,1245.8 Q92,1236 98.6,1233 Q104,1228 111.3,1227.9 L116,1229 L124.1,1225.3 Q131,1221 139.4,1225.3 L300.4,1327.6 Q304,1331 304.3,1335.2 L305.6,1345.4 L310.7,1353.1 L312,1363.3 L308.1,1383.8 Q298,1395 295.3,1404.2 L290.2,1427.2 L274.9,1555 L272,1610 L274.9,1629.1 L269.8,1649.6 Q266,1653 263.4,1652.1 L246.8,1644.4 L234,1631.7 L234,1629.1 L102.4,1549.9 L92.2,1551.2 L74.3,1532 L70.4,1520.5 L65.3,1491.1 L58.9,1455.3 Z" stroke-width="2.2" fill="none" />
<path d="M272.3,1358.2 L262,1450 M260,1470 L244.2,1578 L252,1640" stroke-width="1.8" fill="none" />
<path d="M281.3,1360.8 L271,1440 M269,1458 L254.4,1575.4 L258,1600 M259,1612 L262,1640" stroke-width="1.6" fill="none" />
<path d="M300,1345 Q292,1350 289,1363.3 L267.2,1572.9 L272.3,1618.9" stroke-width="1.8" fill="none" />
<path d="M274,1352 Q290,1340 303,1339" stroke-width="1.8" fill="none" />
<path d="M102.4,1248.3 L213.6,1317.3" stroke-width="1.8" fill="none" />
<path d="M107,1246 L212,1311" stroke-width="1.6" fill="none" />
<path d="M229,1325 L262,1347" stroke-width="1.8" fill="none" />
<path d="M226,1318 L262,1341" stroke-width="1.6" fill="none" />
<path d="M124.1,1314.8 L226.3,1381.2 Q228,1385 224,1384 L125,1320 Q122,1318 124.1,1314.8 Z" stroke-width="1.8" fill="none" />
<path d="M65.3,1469.4 L78,1477 M92,1485 L236.6,1578" stroke-width="1.8" fill="none" />
<path d="M73,1521.8 L254.4,1634.2" stroke-width="1.8" fill="none" />
<path d="M76,1527 L90,1538 L103,1543 L250,1640" stroke-width="1.8" fill="none" />
<circle cx="301.7" cy="1371" r="2" stroke-width="1.5" fill="#000"/>
<circle cx="251.9" cy="1639.3" r="2" stroke-width="1.5" fill="#000"/>
<circle cx="85.8" cy="1533.3" r="1.8" stroke-width="1.5" fill="#000"/>
<path d="M138,1386 L141,1386.5" stroke-width="1.5" fill="none" />
<path d="M185.4,1212.6 L249.3,1422.1 L154.8,1509" stroke-width="2.0" fill="none" stroke-dasharray="12 7"/>
<path d="M166,1151 L185.4,1212.6" stroke-width="2.0" fill="none" stroke-dasharray="60 6 4 6"/>
<path d="M207.5,1115 L166,1151" stroke-width="2.0" fill="none" />
<path d="M301.7,1371 L340,1397" stroke-width="1.8" fill="none" stroke-dasharray="10 5 3 5"/>
<path d="M573.4,1144.5 L572.4,1162.2 Q571,1178 564,1186 Q558,1194 549.4,1197.7 L524.3,1208.2 Q511,1214 501.3,1224.9" stroke-width="5.6" fill="none" />
<path d="M573.4,1144.5 L572.4,1162.2 Q571,1178 564,1186 Q558,1194 549.4,1197.7 L524.3,1208.2 Q511,1214 501.3,1224.9" stroke-width="2.0" fill="none" stroke="#fff"/>
<path d="M570,1163 L576,1163" stroke-width="1.4" fill="none" />
<path d="M555,1193 L561,1200" stroke-width="1.4" fill="none" />
<path d="M520,1207 L524,1213" stroke-width="1.4" fill="none" />
<circle cx="572.4" cy="1136.1" r="7.3" stroke-width="2.0" fill="#fff"/>
<ellipse cx="573" cy="1137" rx="2.2" ry="3" transform="rotate(0 573 1137)" stroke-width="1.4" fill="none"/>
<circle cx="495.1" cy="1231.1" r="7.3" stroke-width="2.0" fill="#fff"/>
<ellipse cx="495.5" cy="1231.5" rx="2.2" ry="3" transform="rotate(0 495.5 1231.5)" stroke-width="1.4" fill="none"/>
<path d="M534.8,1159.1 L570.3,1138.2" stroke-width="1.8" fill="none" stroke-dasharray="14 6"/>
<path d="M499.2,1233.2 L523.3,1245.8" stroke-width="1.8" fill="none" stroke-dasharray="14 6"/>
<path d="M593.2,1262.5 L706,1197.7 Q709,1198 708,1201 L596,1266 Z" stroke-width="1.8" fill="#fff" />
<path d="M590,1264 L593.2,1262.5 L596,1266 L592,1266 Z" stroke-width="1.8" fill="none" />
<path d="M633,1229 L646,1222 L651,1218 L664,1218.6 L665.3,1235.3 L655,1241 L645.5,1245.8 L640,1240 L633,1234 Z" stroke-width="2.0" fill="#fff" />
<path d="M651,1218 L652,1238" stroke-width="1.4" fill="none" />
<path d="M745.7,1239.5 L680,1275 M756,1259.5 L688,1298" stroke-width="2.2" fill="none" />
<path d="M743.6,1235.3 L762.4,1227 L772.9,1231.1 L777,1245.8 L770.8,1256.2 L756.2,1259.3 L747.8,1252 Z" stroke-width="2.2" fill="#fff" />
<path d="M758.2,1237.4 L760.3,1256.2 M747.8,1252 L745,1240" stroke-width="1.6" fill="none" />
<ellipse cx="683" cy="1287" rx="5.5" ry="12.5" transform="rotate(-25 683 1287)" stroke-width="2.2" fill="#fff"/>
<path d="M678,1281 L661,1289 M682,1296.5 L666,1305" stroke-width="2.2" fill="none" />
<ellipse cx="662" cy="1297.5" rx="4.5" ry="8.5" transform="rotate(-25 662 1297.5)" stroke-width="2.2" fill="#fff"/>
<ellipse cx="662" cy="1297.5" rx="2" ry="3.5" transform="rotate(-25 662 1297.5)" stroke-width="1.5" fill="none"/>
<path d="M720,1275 Q722,1270 726,1272" stroke-width="1.5" fill="none" />
<path d="M249,281 Q251,291 259,290 Q266,289 266,277" stroke-width="2.2" fill="none" />
<path d="M485,158 Q487,167 494,166 Q501,164 500,151" stroke-width="2.2" fill="none" />
<path d="M894.6,891.6 L888.5,894.2 L882.4,891.6 L882.4,886.4 L888.5,883.8 L894.6,886.4 Z" stroke-width="1.8" fill="#fff" />
<ellipse cx="888.5" cy="888" rx="3.15" ry="2.4499999999999997" transform="rotate(0 888.5 888)" stroke-width="1.4" fill="none"/>
</g>
<text transform="translate(438.0,82.1) scale(1.007,1)" x="-1.6" y="0" font-size="34.9">38</text>
<text transform="translate(181.0,170.8) scale(1.091,1)" x="-1.6" y="0" font-size="34.9">34</text>
<text transform="translate(590.0,165.6) scale(1.035,1)" x="-1.6" y="0" font-size="34.9">35</text>
<text transform="translate(614.0,244.6) scale(1.091,1)" x="-1.6" y="0" font-size="34.9">30</text>
<text transform="translate(637.0,292.6) scale(1.035,1)" x="-1.6" y="0" font-size="34.9">36</text>
<rect x="803.2" y="331.6" width="3.8" height="24.299999999999955" fill="#000" rx="1"/>
<text transform="translate(780.0,355.6) scale(1.208,1)" x="-1.6" y="0" font-size="34.9">3</text>
<text transform="translate(963.0,278.6) scale(1.287,1)" x="-1.6" y="0" font-size="34.9">6</text>
<rect x="1170" y="230.6" width="3.8" height="24.30000000000001" fill="#000" rx="1"/>
<text transform="translate(1177.3,254.6) scale(1.269,1)" x="-1.6" y="0" font-size="34.9">5</text>
<rect x="1334" y="334.1" width="3.8" height="24.299999999999955" fill="#000" rx="1"/>
<text transform="translate(1341.3,358.1) scale(1.024,1)" x="-1.6" y="0" font-size="34.9">8</text>
<text transform="translate(837.0,477.1) scale(1.063,1)" x="-1.6" y="0" font-size="34.9">32</text>
<text transform="translate(1346.5,610.8) scale(1.021,1)" x="-1.6" y="0" font-size="34.9">37</text>
<text transform="translate(955.0,734.6) scale(1.134,1)" x="-1.6" y="0" font-size="34.9">7</text>
<rect x="754.2" y="632.6" width="3.8" height="24.299999999999955" fill="#000" rx="1"/>
<text transform="translate(729.0,656.6) scale(1.330,1)" x="-1.6" y="0" font-size="34.9">4</text>
<text transform="translate(550.5,732.6) scale(1.077,1)" x="-1.6" y="0" font-size="34.9">42</text>
<text transform="translate(1263.0,740.1) scale(1.007,1)" x="-1.6" y="0" font-size="34.9">37</text>
<text transform="translate(445.5,814.6) scale(1.119,1)" x="-1.6" y="0" font-size="34.9">46</text>
<text transform="translate(842.0,796.6) scale(1.119,1)" x="-1.6" y="0" font-size="34.9">40</text>
<rect x="1161.2" y="797.1" width="3.8" height="24.299999999999955" fill="#000" rx="1"/>
<text transform="translate(1140.0,821.1) scale(1.085,1)" x="-1.6" y="0" font-size="34.9">2</text>
<text transform="translate(552.0,949.6) scale(1.077,1)" x="-1.6" y="0" font-size="34.9">47</text>
<text transform="translate(194.0,1022.1) scale(1.042,1)" x="-1.6" y="0" font-size="34.9">2</text>
<text transform="translate(300.0,1025.8) scale(1.007,1)" x="-1.6" y="0" font-size="34.9">54</text>
<text transform="translate(817.0,1012.1) scale(1.091,1)" x="-1.6" y="0" font-size="34.9">43</text>
<text transform="translate(1373.0,988.3) scale(1.007,1)" x="-1.6" y="0" font-size="34.9">20</text>
<text transform="translate(1435.0,1043.3) scale(0.979,1)" x="-1.6" y="0" font-size="34.9">38</text>
<text transform="translate(738.0,1070.3) scale(1.063,1)" x="-1.6" y="0" font-size="34.9">44</text>
<text transform="translate(499.0,1141.6) scale(0.979,1)" x="-1.6" y="0" font-size="34.9">53</text>
<text transform="translate(705.5,1172.1) scale(1.077,1)" x="-1.6" y="0" font-size="34.9">45</text>
<rect x="618.2" y="1198.6" width="3.8" height="24.300000000000182" fill="#000" rx="1"/>
<text transform="translate(590.5,1222.6) scale(1.484,1)" x="-1.6" y="0" font-size="34.9">5</text>
<rect x="331" y="1219.35" width="4" height="24.800000000000182" fill="#000" rx="1"/>
<text transform="translate(494.0,1309.6) scale(1.021,1)" x="-1.6" y="0" font-size="34.9">52</text>
<text transform="translate(563.0,1315.8) scale(1.119,1)" x="-1.6" y="0" font-size="34.9">50</text>
<text transform="translate(796.0,1475.1) scale(1.049,1)" x="-1.6" y="0" font-size="34.9">25</text>
<text transform="translate(362.0,1503.6) scale(1.007,1)" x="-1.6" y="0" font-size="34.9">37</text>
<text transform="translate(1090.0,1591.3) scale(1.007,1)" x="-1.6" y="0" font-size="34.9">24</text>
<text transform="translate(219.0,1730.8) scale(0.979,1)" x="-1.6" y="0" font-size="34.9">37</text>
<text class="wm" x="1373" y="1786" font-size="40"><tspan style="fill:#4a6db3;stroke:#4a6db3;stroke-width:0.7px">m</tspan><tspan style="fill:#5bab45;stroke:#5bab45;stroke-width:0.7px">o</tspan><tspan style="fill:#e771a9;stroke:#e771a9;stroke-width:0.7px">t</tspan><tspan style="fill:#22a04b;stroke:#22a04b;stroke-width:0.7px">o</tspan><tspan style="fill:#e6521f;stroke:#e6521f;stroke-width:0.7px">r</tspan><tspan style="fill:#f29a1f;stroke:#f29a1f;stroke-width:0.7px">u</tspan><tspan style="fill:#f5cb19;stroke:#f5cb19;stroke-width:0.7px">f</tspan><tspan style="fill:#333;stroke:#333;stroke-width:0.3px" font-size="19" dx="1">.de</tspan></text>
</svg>
</body></html>
